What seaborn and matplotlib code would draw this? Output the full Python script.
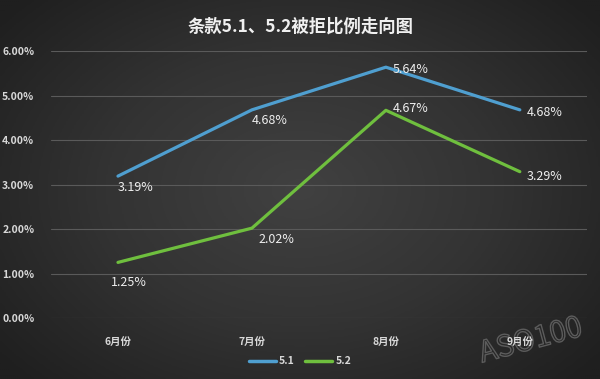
import numpy as np
import pandas as pd
import matplotlib
matplotlib.use("Agg")
import matplotlib.pyplot as plt
import matplotlib.patheffects as pe
import seaborn as sns

months = ["6月份", "7月份", "8月份", "9月份"]
rate_51 = [3.19, 4.68, 5.64, 4.68]
rate_52 = [1.25, 2.02, 4.67, 3.29]
series_names = ["5.1", "5.2"]

sns.set_theme(style="dark")
plt.rcParams["font.family"] = ["Noto Sans CJK SC", "DejaVu Sans"]

df = pd.DataFrame({
    "month": months * 2,
    "rate": rate_51 + rate_52,
    "series": [series_names[0]] * len(months) + [series_names[1]] * len(months),
})

fig = plt.figure(figsize=(6, 3.79), dpi=100)

# radial dark background
bg = fig.add_axes([0, 0, 1, 1])
yy, xx = np.mgrid[-1:1:200j, -1:1:300j]
r = np.sqrt(xx ** 2 + (yy * 0.9) ** 2)
bg.imshow(r, cmap=matplotlib.colors.LinearSegmentedColormap.from_list(
    "bg", ["#414141", "#333333", "#1f1f1f"]), aspect="auto", vmin=0, vmax=1.3,
    extent=(0, 1, 0, 1))
bg.set_xlim(0, 1)
bg.set_ylim(0, 1)
bg.axis("off")
# watermark, behind the chart
bg.text(0.885, 0.1, "ASO100", color="none", fontsize=21,
        rotation=15, ha="center", va="center", fontweight="light",
        path_effects=[pe.withStroke(linewidth=1.0, foreground="#5c5c5c")])

ax = fig.add_axes([0.085, 0.161, 0.893, 0.704])
ax.set_facecolor("none")
colors = {"5.1": "#4f9fd0", "5.2": "#6fbf3e"}
sns.lineplot(data=df, x="month", y="rate", hue="series", palette=colors,
             linewidth=2.3, ax=ax, legend=False, sort=False)

ax.set_xlim(-0.5, 3.5)
ax.set_ylim(0, 6)
ax.set_yticks(np.arange(0, 7, 1))
ax.set_yticklabels([f"{v:.2f}%" for v in range(7)])
ax.grid(axis="y", color="#5a5a5a", linewidth=0.8)
ax.grid(axis="x", visible=False)
for s in ax.spines.values():
    s.set_visible(False)
ax.tick_params(axis="both", colors="#d8d8d8", labelsize=7.5, length=0)
ax.tick_params(axis="y", pad=12)
ax.tick_params(axis="x", pad=14)
for lbl in ax.get_xticklabels() + ax.get_yticklabels():
    lbl.set_fontweight("bold")
ax.set_xlabel("")
ax.set_ylabel("")

# data labels
off51 = [(0.0, -0.25), (0.0, -0.25), (0.05, -0.05), (0.05, -0.05)]
off52 = [(-0.05, -0.45), (0.05, -0.25), (0.05, 0.05), (0.05, -0.1)]
for i, v in enumerate(rate_51):
    ax.text(i + off51[i][0], v + off51[i][1], f"{v:.2f}%", color="#eeeeee",
            fontsize=9, ha="left", va="center")
for i, v in enumerate(rate_52):
    ax.text(i + off52[i][0], v + off52[i][1], f"{v:.2f}%", color="#eeeeee",
            fontsize=9, ha="left", va="center")

fig.text(0.5, 0.93, "条款5.1、5.2被拒比例走向图", color="#f0f0f0",
         fontsize=12.5, fontweight="bold", ha="center", va="center")

handles = [plt.Line2D([], [], color=colors[n], linewidth=2.5) for n in series_names]
leg = fig.legend(handles, series_names, loc="center", bbox_to_anchor=(0.5, 0.047),
                 ncol=2, frameon=False, fontsize=7.5, handlelength=2.6,
                 handletextpad=0.3, columnspacing=1.0)
for t in leg.get_texts():
    t.set_color("#d8d8d8")
    t.set_fontweight("bold")

fig.savefig("out.png", dpi=100)
